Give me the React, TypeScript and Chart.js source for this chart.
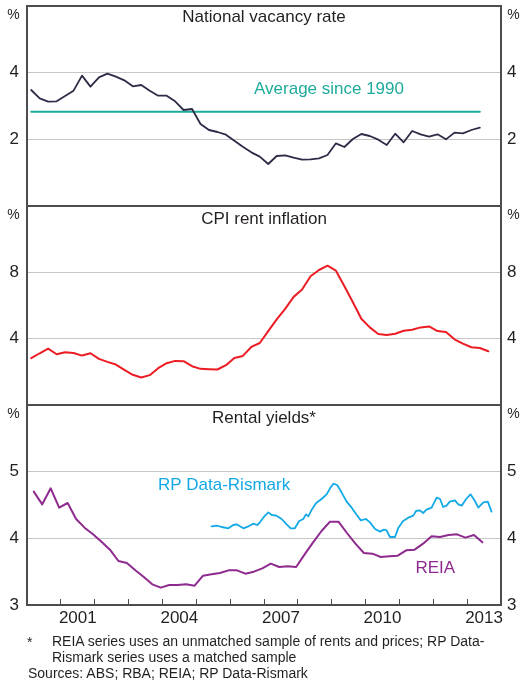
import React, { useEffect, useRef } from 'react';
import { Chart, registerables } from 'chart.js';

Chart.register(...registerables);

const FONT = '"Liberation Sans", Arial, Helvetica, sans-serif';
const TEXT = '#231f20';
const FRAME = '#4d4d4f';
const GRID = '#c6c6c6';

// ---------- data ----------
const xMin = 2000;
const xMax = 2014;
const yearLabels = [2001, 2004, 2007, 2010, 2013];

// National vacancy rate, quarterly from Q1 2000
const vacancyStart = 2000.125;
const vacancyRate = [
  3.48, 3.23, 3.13, 3.14, 3.30, 3.46, 3.91, 3.58, 3.86, 3.97,
  3.88, 3.77, 3.59, 3.63, 3.46, 3.31, 3.31, 3.14, 2.88, 2.91,
  2.46, 2.28, 2.22, 2.14, 1.96, 1.78, 1.61, 1.48, 1.26, 1.50,
  1.52, 1.45, 1.39, 1.40, 1.43, 1.53, 1.88, 1.77, 2.01, 2.16,
  2.10, 1.99, 1.83, 2.17, 1.91, 2.25, 2.15, 2.08, 2.15, 2.00,
  2.20, 2.18, 2.28, 2.35,
];
const vacancyAverage = 2.83;

// CPI rent inflation, quarterly from Q1 2000
const cpiStart = 2000.125;
const cpiRent = [
  2.82, 3.12, 3.40, 3.06, 3.18, 3.14, 2.98, 3.12, 2.78, 2.60,
  2.44, 2.12, 1.82, 1.66, 1.80, 2.22, 2.52, 2.66, 2.64, 2.34,
  2.18, 2.16, 2.14, 2.40, 2.84, 2.96, 3.50, 3.74, 4.45, 5.16,
  5.80, 6.52, 6.96, 7.76, 8.14, 8.40, 8.10, 7.16, 6.20, 5.20,
  4.68, 4.28, 4.22, 4.30, 4.48, 4.54, 4.68, 4.74, 4.46, 4.40,
  3.96, 3.70, 3.48, 3.44, 3.24,
];

// REIA rental yield, quarterly
const reiaStart = 2000.2;
const reiaYield = [
  4.70, 4.51, 4.75, 4.46, 4.53, 4.29, 4.16, 4.06, 3.95, 3.83,
  3.66, 3.63, 3.52, 3.42, 3.31, 3.26, 3.30, 3.30, 3.31, 3.29,
  3.44, 3.46, 3.48, 3.52, 3.52, 3.47, 3.50, 3.55, 3.62, 3.57,
  3.58, 3.57, 3.76, 3.94, 4.11, 4.25, 4.25, 4.08, 3.92, 3.78,
  3.77, 3.72, 3.73, 3.74, 3.82, 3.83, 3.92, 4.03, 4.02, 4.05,
  4.06, 4.01, 4.05, 3.94,
];

// RP Data-Rismark rental yield
const rpDates = [
  2005.45, 2005.60, 2005.75, 2005.95, 2006.09, 2006.19, 2006.39, 2006.54, 2006.68, 2006.80,
  2006.88, 2006.95, 2007.03, 2007.13, 2007.23, 2007.37, 2007.52, 2007.67, 2007.79, 2007.91,
  2008.04, 2008.16, 2008.24, 2008.31, 2008.41, 2008.54, 2008.70, 2008.85, 2008.95, 2009.05,
  2009.16, 2009.29, 2009.44, 2009.59, 2009.74, 2009.86, 2010.01, 2010.13, 2010.28, 2010.43,
  2010.54, 2010.62, 2010.72, 2010.87, 2010.97, 2011.11, 2011.26, 2011.41, 2011.49, 2011.61,
  2011.70, 2011.80, 2011.95, 2012.10, 2012.20, 2012.29, 2012.39, 2012.49, 2012.64, 2012.74,
  2012.84, 2012.97, 2013.10, 2013.23, 2013.33, 2013.48, 2013.61, 2013.72,
];
const rpYield = [
  4.18, 4.19, 4.17, 4.15, 4.20, 4.21, 4.15, 4.18, 4.22, 4.20,
  4.24, 4.29, 4.34, 4.39, 4.35, 4.34, 4.29, 4.21, 4.15, 4.15,
  4.26, 4.29, 4.36, 4.33, 4.43, 4.53, 4.59, 4.66, 4.75, 4.82,
  4.80, 4.69, 4.55, 4.46, 4.35, 4.27, 4.29, 4.24, 4.14, 4.10,
  4.13, 4.12, 4.02, 4.02, 4.16, 4.26, 4.31, 4.34, 4.41, 4.42,
  4.38, 4.43, 4.46, 4.61, 4.59, 4.47, 4.49, 4.55, 4.57, 4.51,
  4.49, 4.59, 4.66, 4.56, 4.46, 4.54, 4.55, 4.40,
];

// ---------- helpers ----------
const quarterly = (start: number, values: number[]) =>
  values.map((v, i) => ({ x: start + i * 0.25, y: v }));
const paired = (xs: number[], ys: number[]) => xs.map((x, i) => ({ x, y: ys[i] }));

const W = 522;
const H = 684;

const framePlugin = {
  id: 'frame',
  afterDraw(chart: any, _args: any, opts: any) {
    const { ctx, chartArea: a } = chart;
    const xs = chart.scales.x;
    const ys = chart.scales.y;
    ctx.save();
    ctx.strokeStyle = FRAME;
    ctx.lineWidth = 2;
    ctx.strokeRect(a.left, a.top, a.right - a.left, a.bottom - a.top);
    ctx.fillStyle = TEXT;
    ctx.textAlign = 'center';
    ctx.textBaseline = 'middle';
    ctx.font = `17px ${FONT}`;
    ctx.fillText(opts.title, (a.left + a.right) / 2, a.top + opts.titleDy);
    ctx.font = `14px ${FONT}`;
    ctx.fillText('%', 13.5, a.top + 9);
    ctx.fillText('%', 513.5, a.top + 9);
    ctx.font = `17px ${FONT}`;
    for (const l of opts.labels || []) {
      ctx.fillStyle = l.color;
      ctx.fillText(l.text, xs.getPixelForValue(l.x), ys.getPixelForValue(l.y));
    }
    ctx.restore();
  },
};

const noPad = (s: any) => {
  s.paddingTop = 0;
  s.paddingBottom = 0;
  s.paddingLeft = 0;
  s.paddingRight = 0;
};

function yScales(min: number, max: number, step: number, labelled: number[]) {
  const ticksFor = (s: any) => {
    const t = [];
    for (let v = min; v <= max + 1e-9; v += step) t.push({ value: v });
    s.ticks = t;
  };
  const tickCfg = (padding: number) => ({
    padding,
    color: TEXT,
    font: { family: FONT, size: 17 },
    callback: (v: any) => (labelled.includes(Number(v)) ? String(v) : null),
  });
  return {
    y: {
      type: 'linear',
      position: 'left',
      min,
      max,
      afterBuildTicks: ticksFor,
      afterFit: (s: any) => {
        s.width = 27;
        noPad(s);
      },
      grid: {
        drawTicks: false,
        lineWidth: 1,
        color: (c: any) =>
          c.tick && (c.tick.value === min || c.tick.value === max) ? 'rgba(0,0,0,0)' : GRID,
      },
      border: { display: false },
      ticks: tickCfg(8),
    },
    y2: {
      type: 'linear',
      position: 'right',
      min,
      max,
      afterBuildTicks: ticksFor,
      afterFit: (s: any) => {
        s.width = 21;
        noPad(s);
      },
      grid: { display: false, drawTicks: false },
      border: { display: false },
      ticks: tickCfg(6),
    },
  };
}

function baseOptions(padTop: number, padBottom: number, xScale: any, ys: any, frame: any) {
  return {
    responsive: false,
    animation: false,
    devicePixelRatio: 1,
    layout: { padding: { top: padTop, bottom: padBottom, left: 0, right: 0 } },
    elements: { point: { radius: 0 }, line: { tension: 0, borderCapStyle: 'round', borderJoinStyle: 'round' } },
    plugins: { legend: { display: false }, tooltip: { enabled: false }, frame },
    scales: { x: xScale, ...ys },
  };
}

const hiddenX = { type: 'linear', min: xMin, max: xMax, display: false };

const halfYears: number[] = [];
for (let y = xMin; y < xMax; y++) halfYears.push(y + 0.5);

const bottomX = {
  type: 'linear',
  position: 'bottom',
  min: xMin,
  max: xMax,
  afterBuildTicks: (s: any) => {
    s.ticks = halfYears.map((v) => ({ value: v }));
  },
  afterFit: (s: any) => {
    s.height = 30;
    noPad(s);
  },
  grid: {
    offset: true,
    drawOnChartArea: false,
    drawTicks: true,
    tickLength: -6,
    color: FRAME,
    lineWidth: 1,
  },
  border: { display: false },
  ticks: {
    autoSkip: false,
    maxRotation: 0,
    minRotation: 0,
    padding: 9,
    color: TEXT,
    font: { family: FONT, size: 17 },
    callback: (v: any) => {
      const yr = Math.round(Number(v) - 0.5);
      return yearLabels.includes(yr) ? String(yr) : '';
    },
  },
};

const vacancyData = quarterly(vacancyStart, vacancyRate);

function buildCharts(c1: HTMLCanvasElement, c2: HTMLCanvasElement, c3: HTMLCanvasElement) {
  const ch1 = new Chart(c1, {
    type: 'line',
    data: {
      datasets: [
        {
          data: vacancyData,
          borderColor: '#2d2c48',
          borderWidth: 1.8,
          yAxisID: 'y',
          order: 0,
        },
        {
          data: [
            { x: vacancyData[0].x, y: vacancyAverage },
            { x: vacancyData[vacancyData.length - 1].x, y: vacancyAverage },
          ],
          borderColor: '#1fab9b',
          borderWidth: 2,
          yAxisID: 'y',
          order: 1,
        },
      ],
    },
    options: baseOptions(6, H - 206, hiddenX, yScales(0, 6, 2, [2, 4]), {
      title: 'National vacancy rate',
      titleDy: 11,
      labels: [{ text: 'Average since 1990', x: 2008.92, y: 3.51, color: '#1fab9b' }],
    }) as any,
    plugins: [framePlugin],
  } as any);

  const ch2 = new Chart(c2, {
    type: 'line',
    data: {
      datasets: [
        {
          data: quarterly(cpiStart, cpiRent),
          borderColor: '#ec1c24',
          borderWidth: 2,
          yAxisID: 'y',
        },
      ],
    },
    options: baseOptions(206, H - 405, hiddenX, yScales(0, 12, 4, [4, 8]), {
      title: 'CPI rent inflation',
      titleDy: 13,
      labels: [],
    }) as any,
    plugins: [framePlugin],
  } as any);

  const ch3 = new Chart(c3, {
    type: 'line',
    data: {
      datasets: [
        {
          data: quarterly(reiaStart, reiaYield),
          borderColor: '#8e2a8e',
          borderWidth: 2,
          yAxisID: 'y',
        },
        {
          data: paired(rpDates, rpYield),
          borderColor: '#13a9e6',
          borderWidth: 1.8,
          yAxisID: 'y',
        },
      ],
    },
    options: baseOptions(405, H - 605 - 30, bottomX, yScales(3, 6, 1, [3, 4, 5]), {
      title: 'Rental yields*',
      titleDy: 13,
      labels: [
        { text: 'RP Data-Rismark', x: 2005.82, y: 4.8, color: '#13a9e6' },
        { text: 'REIA', x: 2012.06, y: 3.55, color: '#8e2a8e' },
      ],
    }) as any,
    plugins: [framePlugin],
  } as any);

  return [ch1, ch2, ch3];
}

export default function App() {
  const r1 = useRef<HTMLCanvasElement>(null);
  const r2 = useRef<HTMLCanvasElement>(null);
  const r3 = useRef<HTMLCanvasElement>(null);

  useEffect(() => {
    if (!r1.current || !r2.current || !r3.current) return;
    const charts = buildCharts(r1.current, r2.current, r3.current);
    return () => charts.forEach((c) => c.destroy());
  }, []);

  const canvasStyle: React.CSSProperties = {
    position: 'absolute',
    left: 0,
    top: 0,
    width: W,
    height: H,
    display: 'block',
  };
  const note: React.CSSProperties = {
    position: 'absolute',
    fontSize: 14,
    lineHeight: '16px',
    color: TEXT,
    whiteSpace: 'nowrap',
  };

  return (
    <div
      style={{
        position: 'absolute',
        left: 0,
        top: 0,
        width: W,
        height: H,
        background: '#ffffff',
        fontFamily: FONT,
        overflow: 'hidden',
      }}
    >
      <canvas ref={r1} width={W} height={H} style={canvasStyle} />
      <canvas ref={r2} width={W} height={H} style={canvasStyle} />
      <canvas ref={r3} width={W} height={H} style={canvasStyle} />
      <div style={{ ...note, left: 27, top: 634 }}>*</div>
      <div style={{ ...note, left: 52, top: 633 }}>
        REIA series uses an unmatched sample of rents and prices; RP Data-
      </div>
      <div style={{ ...note, left: 52, top: 649 }}>Rismark series uses a matched sample</div>
      <div style={{ ...note, left: 28, top: 665 }}>Sources: ABS; RBA; REIA; RP Data-Rismark</div>
    </div>
  );
}
